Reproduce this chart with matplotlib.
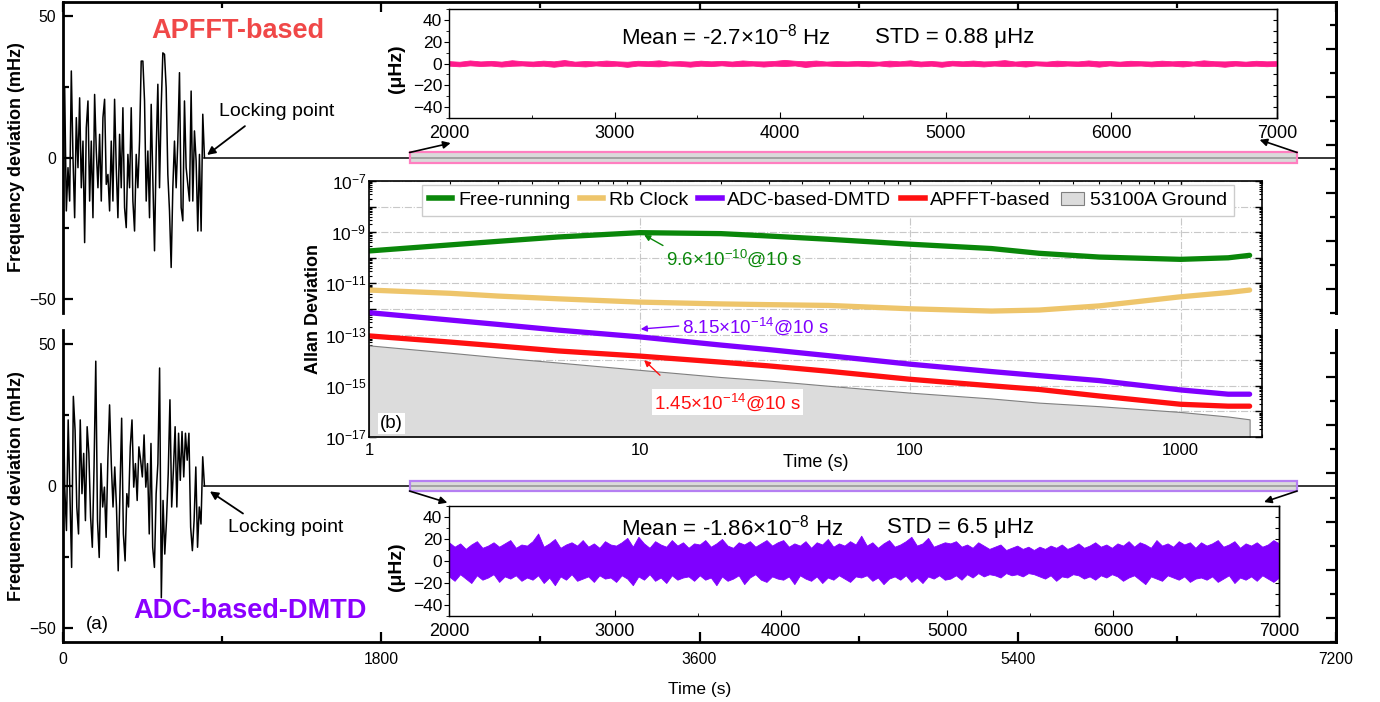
import numpy as np
import matplotlib
matplotlib.use('Agg')
import matplotlib.pyplot as plt
from matplotlib.patches import Rectangle, Patch
from matplotlib.lines import Line2D
from matplotlib.ticker import (FixedLocator, FuncFormatter, LogLocator,
                               MultipleLocator, NullFormatter)

plt.rcParams['font.family'] = ['Liberation Sans', 'DejaVu Sans']
plt.rcParams['mathtext.fontset'] = 'custom'
plt.rcParams['mathtext.rm'] = 'Liberation Sans'
plt.rcParams['mathtext.it'] = 'Liberation Sans:italic'
plt.rcParams['mathtext.bf'] = 'Liberation Sans:bold'

# ---------------- data ----------------
lock_time = 800.0          # s, locking point
total_time = 7200.0        # s
locked_level = 0.0         # mHz after locking (at mHz scale)

# free-running frequency deviation before locking (mHz)
apfft_pre = [0, 24.7, -18.9, -3.6, -15.4, 30.6, 0, -21.3, 14.1, -3.6,
             21.1, -10.7, 5.8, -30.1, 10.5, 20, -15.4, 5.8, -21.3, 22.3,
             2.3, -10.7, 8.2, -15.4, 14.1, 20.6, -9.5, -6, -18.9, 5.8,
             -15.4, 20.6, -3.6, -21.3, 8.2, -10.7, 17.6, -17.7, -24.8, 1.1,
             -10.7, 17.6, -15.4, -26, 1.1, -10.7, 5.8, 34.1, 34.1, 20,
             -15.4, 2.3, -21.3, 18.8, -8.3, -33, 2.3, 25.9, -10.7, 17.6,
             37, 36.5, 24.7, -6, -18.9, -38.9, -10.7, 5.8, -10.7, 5.8,
             30, -17.7, -22.4, 20, -3.6, -9.5, -15.4, 23.5, -15.4, 9.4,
             -1.2, -26, 1.1, -26, 15.3, 0]

adc_pre = [39.8, -0.4, -15.7, 23.3, -2.7, -28.7, 31.6, 19.7, -7.4, -16.9,
           23.3, -2.7, 11.5, -12.2, 20.9, 11.5, -11, -21.6, 6.7, 44,
           -12.2, -25.2, 7.9, -7.4, -0.4, -18.1, 9.1, 28.6, 7.9, -7.4,
           6.7, -7.4, -29.9, -2.7, 23.9, -16.9, -26.4, -2.7, -7.4, 13.8,
           23.3, -0.4, 7.9, -5.1, 13.8, 9.1, 3.2, 18, -0.4, 7.9,
           -16.9, 15, -21.6, -28.7, -2.7, 7.9, 41.6, -39.4, -5.1, -24,
           -12.2, 4.4, 30.4, -7.4, 5.6, 20.9, -7.4, 18.6, 2, 19.2,
           3.2, 18.6, 9.1, 18.6, -14.5, -22.8, -12.2, 6.7, -21.6, -7.4,
           -13.4, 10.3, 0]

# zoomed locked data (uHz): envelope of the dense noise
zoom_window = [2000, 7000]
apfft_upper = [2.2, 1.6, 2.8, 1.9, 2.4, 1.7, 3.0, 2.1, 1.8, 2.6,
               2.0, 3.2, 1.7, 2.3, 1.9, 2.7, 2.0, 1.6, 2.5, 2.1,
               2.9, 1.8, 2.2, 1.7, 2.6, 2.0, 2.4, 1.8, 2.8, 2.1,
               1.9, 2.3, 3.3, 2.5, 2.0, 2.7, 1.8, 2.2, 1.9, 2.4,
               2.1, 1.7, 2.6, 2.0, 2.9, 1.8, 2.3, 1.6, 2.5, 2.0,
               2.7, 1.9, 2.2, 3.1, 1.8, 2.4, 2.0, 1.7, 2.6, 2.1,
               1.9, 2.8, 2.0, 2.3, 1.7, 2.5, 2.1, 1.8, 2.6, 2.0,
               2.4, 1.8, 2.9, 2.1, 1.9, 2.3, 1.7, 2.5, 2.0, 2.2]
apfft_lower = [-2.0, -2.6, -1.7, -2.3, -1.9, -2.8, -2.1, -1.8, -2.5, -2.0,
               -3.0, -1.9, -2.2, -2.7, -1.8, -2.4, -2.0, -3.1, -1.9, -2.3,
               -2.6, -1.8, -2.1, -2.9, -2.0, -2.4, -1.7, -2.5, -2.2, -1.9,
               -2.8, -2.0, -2.3, -1.8, -3.2, -2.1, -1.9, -2.4, -2.2, -2.0,
               -2.5, -1.8, -2.7, -2.1, -1.9, -2.6, -2.0, -3.0, -1.8, -2.3,
               -2.1, -2.7, -1.9, -2.4, -2.0, -2.8, -1.7, -2.2, -2.5, -1.9,
               -2.3, -2.0, -2.9, -1.8, -2.4, -2.1, -1.9, -2.6, -2.2, -2.0,
               -2.7, -1.8, -2.3, -2.1, -3.0, -1.9, -2.4, -2.0, -2.5, -2.1]

adc_upper = [17, 13, 16, 11, 15, 18, 12, 14, 17, 13, 16, 19, 12, 15, 14,
             18, 25, 13, 16, 20, 12, 15, 17, 14, 19, 13, 16, 12, 18, 15,
             14, 17, 21, 13, 22, 16, 12, 18, 15, 13, 19, 14, 17, 12, 16,
             15, 19, 13, 16, 20, 14, 12, 17, 15, 18, 13, 16, 19, 14, 17,
             19, 13, 16, 14, 18, 12, 17, 15, 20, 13, 16, 14, 18, 15, 23,
             14, 17, 12, 16, 19, 13, 15, 18, 22, 14, 16, 21, 13, 15, 17,
             16, 18, 13, 15, 12, 17, 14, 11, 13, 15, 10, 12, 14, 11, 13,
             10, 13, 11, 14, 12, 15, 11, 13, 16, 12, 14, 17, 13, 15, 12,
             16, 14, 18, 13, 17, 15, 12, 19, 14, 16, 13, 18, 15, 17, 12,
             17, 14, 16, 19, 13, 15, 18, 12, 16, 14, 17, 13, 15, 19, 16]
adc_lower = [-14, -18, -12, -16, -20, -13, -17, -15, -12, -19, -14, -16, -13, -18, -15,
             -17, -13, -20, -15, -22, -14, -17, -12, -18, -16, -14, -19, -13, -16, -15,
             -19, -13, -16, -22, -14, -17, -12, -18, -15, -20, -13, -17, -15, -14, -18,
             -13, -17, -15, -22, -14, -18, -16, -13, -21, -15, -12, -17, -19, -14, -16,
             -17, -14, -21, -13, -16, -18, -14, -20, -15, -17, -13, -16, -19, -14, -15,
             -13, -18, -15, -21, -16, -14, -17, -13, -19, -15, -20, -14, -16, -13, -17,
             -16, -13, -17, -12, -15, -11, -14, -12, -13, -15, -11, -13, -12, -14, -11,
             -12, -14, -16, -13, -18, -14, -15, -12, -13, -16, -14, -17, -13, -15, -12,
             -14, -18, -15, -13, -17, -21, -14, -16, -18, -13, -15, -17, -14, -19, -16,
             -15, -17, -14, -19, -16, -13, -20, -15, -17, -14, -18, -13, -16, -19, -15]

# Allan deviation
tau = [1, 2, 3, 5, 10, 20, 30, 50, 100, 200, 300, 500, 1000, 1500, 1800]
free_running = [1.85e-10, 3.2e-10, 4.4e-10, 6.5e-10, 9.6e-10, 8.8e-10, 7.1e-10, 5.3e-10,
                3.4e-10, 2.3e-10, 1.5e-10, 1.07e-10, 8.7e-11, 1.0e-10, 1.25e-10]
rb_clock = [5.5e-12, 4.1e-12, 3.2e-12, 2.5e-12, 1.86e-12, 1.58e-12, 1.48e-12, 1.38e-12,
            1.02e-12, 8.3e-13, 9.1e-13, 1.32e-12, 3.0e-12, 4.4e-12, 5.5e-12]
adc_dmtd = [7.2e-13, 3.7e-13, 2.5e-13, 1.5e-13, 8.15e-14, 3.9e-14, 2.6e-14, 1.5e-14,
            7.0e-15, 3.6e-15, 2.5e-15, 1.6e-15, 6.9e-16, 4.7e-16, 4.7e-16]
apfft = [8.9e-14, 5.1e-14, 3.6e-14, 2.3e-14, 1.45e-14, 8.4e-15, 6.0e-15, 3.7e-15,
         1.8e-15, 1.0e-15, 7.2e-16, 4.0e-16, 1.9e-16, 1.6e-16, 1.6e-16]
ground = [3.8e-14, 1.95e-14, 1.3e-14, 8.1e-15, 4.2e-15, 2.2e-15, 1.6e-15, 1.0e-15,
          5.4e-16, 3.2e-16, 2.2e-16, 1.6e-16, 9.5e-17, 6.3e-17, 4.9e-17]

# ---------------- colours ----------------
C_GREEN = '#0a870a'
C_YELLOW = '#eec56b'
C_PURPLE = '#7f00ff'
C_RED = '#ff1010'
C_PINK = '#ff1a8c'
C_GROUND = '#dcdcdc'

# ---------------- layout ----------------
W, H = 1380, 702
fig = plt.figure(figsize=(W / 100, H / 100), dpi=100)


def px_rect(x0, y0, x1, y1):
    return [x0 / W, 1 - y1 / H, (x1 - x0) / W, (y1 - y0) / H]


ax_top = fig.add_axes(px_rect(63, 2, 1336, 313))
ax_bot = fig.add_axes(px_rect(63, 330, 1336, 642))


def style_main(ax, top):
    tw = ax.twinx()
    ax.set_xlim(0, total_time)
    ax.set_ylim(-55, 55)
    for s in ax.spines.values():
        s.set_linewidth(2)
    ax.spines['bottom' if top else 'top'].set_visible(False)
    ax.xaxis.set_major_locator(MultipleLocator(1800))
    ax.xaxis.set_minor_locator(MultipleLocator(900))
    ax.yaxis.set_major_locator(MultipleLocator(50))
    ax.yaxis.set_minor_locator(MultipleLocator(25))
    ax.tick_params(which='both', direction='in', width=1.6)
    ax.tick_params(which='major', length=7)
    ax.tick_params(which='minor', length=4)
    ax.tick_params(axis='y', left=True, right=False, labelsize=11.3, pad=5)
    if top:
        ax.tick_params(axis='x', which='both', top=True, bottom=False,
                       labelbottom=False, labeltop=False)
    else:
        ax.tick_params(axis='x', which='both', top=False, bottom=True,
                       labelsize=11.3, pad=7)
    # right-hand ticks
    tw.set_ylim(0, 311)
    for s in ['left', 'top', 'bottom']:
        tw.spines[s].set_visible(False)
    tw.spines['right'].set_linewidth(2)
    tw.yaxis.set_major_locator(FixedLocator(np.arange(24, 311, 48)))
    tw.yaxis.set_minor_locator(FixedLocator(np.arange(0, 311, 48)))
    tw.tick_params(axis='y', which='both', direction='in', labelright=False, width=1.6)
    tw.tick_params(axis='y', which='major', length=7)
    tw.tick_params(axis='y', which='minor', length=4)
    ax.set_ylabel('Frequency deviation (mHz)', fontsize=13, fontweight='bold')
    ax.yaxis.set_label_coords(-0.0299, 0.5)


style_main(ax_top, True)
style_main(ax_bot, False)

ax_bot.set_xlabel('Time (s)', fontsize=12.5)
ax_bot.xaxis.set_label_coords(0.5, -0.127)

t_apfft = np.linspace(0, lock_time, len(apfft_pre))
t_adc = np.linspace(0, lock_time, len(adc_pre))
ax_top.plot(t_apfft, apfft_pre, color='k', lw=1.1)
ax_top.plot([lock_time, total_time], [locked_level, locked_level], color='k', lw=1.1)
ax_bot.plot(t_adc, adc_pre, color='k', lw=1.1)
ax_bot.plot([lock_time, total_time], [locked_level, locked_level], color='k', lw=1.1)

# zoom rectangles
rect_t0, rect_t1, rect_h = 1960, 6980, 1.77
ax_top.add_patch(Rectangle((rect_t0, -rect_h), rect_t1 - rect_t0, 2 * rect_h,
                           facecolor=(0.8, 0.8, 0.8, 0.72), edgecolor='#ff7fc0',
                           lw=1.6, zorder=3))
ax_bot.add_patch(Rectangle((rect_t0, -rect_h), rect_t1 - rect_t0, 2 * rect_h,
                           facecolor=(0.8, 0.8, 0.8, 0.72), edgecolor='#b57ff2',
                           lw=1.6, zorder=3))

# titles / annotations on main panels
ax_top.text(990, 44.7, 'APFFT-based', color='#f04848', fontsize=19.5,
            fontweight='bold', ha='center', va='center')
ax_bot.text(1058, -44.1, 'ADC-based-DMTD', color='#8b00ff', fontsize=19.5,
            fontweight='bold', ha='center', va='center')
ax_bot.text(192, -48.7, '(a)', fontsize=13.5, ha='center', va='center')

ax_top.text(1210, 16.4, 'Locking point', fontsize=14, ha='center', va='center')
ax_top.annotate('', xy=(815, 0.9), xytext=(1029, 11.1),
                arrowprops=dict(arrowstyle='-|>', color='k', lw=1.3,
                                mutation_scale=12, shrinkA=0, shrinkB=0))
ax_bot.text(1261, -14.6, 'Locking point', fontsize=14, ha='center', va='center')
ax_bot.annotate('', xy=(831, -1.9), xytext=(1018, -9.7),
                arrowprops=dict(arrowstyle='-|>', color='k', lw=1.3,
                                mutation_scale=12, shrinkA=0, shrinkB=0))

# ---------------- zoom insets ----------------
ins_top = fig.add_axes(px_rect(449, 9, 1277, 118))
ins_bot = fig.add_axes(px_rect(449, 506, 1279, 616))


def style_inset(ax):
    ax.set_xlim(*zoom_window)
    ax.set_ylim(-50, 50)
    ax.set_facecolor('white')
    for s in ax.spines.values():
        s.set_linewidth(1.0)
    ax.xaxis.set_major_locator(MultipleLocator(1000))
    ax.xaxis.set_minor_locator(MultipleLocator(500))
    ax.yaxis.set_major_locator(MultipleLocator(20))
    ax.yaxis.set_minor_locator(MultipleLocator(10))
    ax.tick_params(axis='x', which='both', direction='in', labelsize=13, pad=5)
    ax.tick_params(axis='x', which='major', length=4)
    ax.tick_params(axis='x', which='minor', length=2.5)
    ax.tick_params(axis='y', which='both', direction='out', labelsize=12.5, pad=1.5)
    ax.tick_params(axis='y', which='major', length=3.5)
    ax.tick_params(axis='y', which='minor', length=2)
    sec = ax.secondary_yaxis('right')
    sec.yaxis.set_major_locator(MultipleLocator(10))
    sec.tick_params(axis='y', direction='in', length=3, labelright=False)
    sec.spines['right'].set_linewidth(1.0)
    ax.set_ylabel('(μHz)', fontsize=14, fontweight='bold')
    ax.yaxis.set_label_coords(-0.053, 0.45)


style_inset(ins_top)
style_inset(ins_bot)

t_pink = np.linspace(zoom_window[0], zoom_window[1], len(apfft_upper))
ins_top.fill_between(t_pink, apfft_lower, apfft_upper, color=C_PINK, lw=0.6)
t_purp = np.linspace(zoom_window[0], zoom_window[1], len(adc_upper))
ins_bot.fill_between(t_purp, adc_lower, adc_upper, color=C_PURPLE, lw=0.6)

ins_top.text(0.2077, 0.743, 'Mean = -2.7×10$^{-8}$ Hz', transform=ins_top.transAxes,
             fontsize=16, ha='left', va='center')
ins_top.text(0.5145, 0.743, 'STD = 0.88 μHz', transform=ins_top.transAxes,
             fontsize=16, ha='left', va='center')
ins_bot.text(0.2072, 0.8, 'Mean = -1.86×10$^{-8}$ Hz', transform=ins_bot.transAxes,
             fontsize=16, ha='left', va='center')
ins_bot.text(0.5277, 0.8, 'STD = 6.5 μHz', transform=ins_bot.transAxes,
             fontsize=16, ha='left', va='center')

arrow_kw = dict(arrowstyle='-|>', color='k', lw=1.2, mutation_scale=11,
                shrinkA=0, shrinkB=0)
ax_top.annotate('', xy=(0.002, -0.23), xycoords=ins_top.transAxes,
                xytext=(rect_t0, rect_h), textcoords='data', arrowprops=arrow_kw)
ax_top.annotate('', xy=(0.979, -0.2), xycoords=ins_top.transAxes,
                xytext=(rect_t1, rect_h), textcoords='data', arrowprops=arrow_kw)
ax_bot.annotate('', xy=(-0.002, 1.03), xycoords=ins_bot.transAxes,
                xytext=(rect_t0, -rect_h), textcoords='data', arrowprops=arrow_kw)
ax_bot.annotate('', xy=(0.982, 1.036), xycoords=ins_bot.transAxes,
                xytext=(rect_t1, -rect_h), textcoords='data', arrowprops=arrow_kw)

# ---------------- Allan deviation inset ----------------
ax_al = fig.add_axes(px_rect(369, 181, 1262, 437))
ax_al.set_facecolor('white')
ax_al.set_xscale('log')
ax_al.set_yscale('log')
ax_al.set_xlim(1, 2000)
ax_al.set_ylim(1e-17, 1e-7)
ax_al.set_axisbelow(True)
for s in ax_al.spines.values():
    s.set_linewidth(1.2)
ax_al.yaxis.set_major_locator(LogLocator(base=10, numticks=30))
ax_al.yaxis.set_minor_locator(LogLocator(base=10, subs=np.arange(2, 10), numticks=300))
ax_al.yaxis.set_minor_formatter(NullFormatter())
ax_al.xaxis.set_minor_locator(LogLocator(base=10, subs=np.arange(2, 10), numticks=30))
ax_al.xaxis.set_minor_formatter(NullFormatter())
ax_al.xaxis.set_major_formatter(FuncFormatter(lambda v, p: f'{v:g}'))


def yfmt(v, p):
    e = int(round(np.log10(v)))
    return f'$10^{{{e}}}$' if e % 2 else ''


ax_al.yaxis.set_major_formatter(FuncFormatter(yfmt))
ax_al.tick_params(which='both', direction='in', top=True, right=True)
ax_al.tick_params(which='major', length=5, width=1)
ax_al.tick_params(which='minor', length=2.5, width=0.8)
ax_al.tick_params(axis='y', labelsize=12.5, pad=2)
ax_al.tick_params(axis='x', labelsize=12, pad=4)
ax_al.grid(True, which='major', ls='-.', color='#c8c8c8', lw=0.8)

ax_al.fill_between(tau, ground, 1e-18, facecolor=C_GROUND, edgecolor='#808080', lw=0.8)
ax_al.plot(tau, free_running, color=C_GREEN, lw=3.8, solid_capstyle='round')
ax_al.plot(tau, rb_clock, color=C_YELLOW, lw=3.8, solid_capstyle='round')
ax_al.plot(tau, adc_dmtd, color=C_PURPLE, lw=3.8, solid_capstyle='round')
ax_al.plot(tau, apfft, color=C_RED, lw=3.8, solid_capstyle='round')

ax_al.set_ylabel('Allan Deviation', fontsize=13, fontweight='bold')
ax_al.yaxis.set_label_coords(-0.053, 0.5)
ax_al.set_xlabel('Time (s)', fontsize=13)
ax_al.xaxis.set_label_coords(0.5, -0.066)

handles = [Line2D([], [], color=C_GREEN, lw=4),
           Line2D([], [], color=C_YELLOW, lw=4),
           Line2D([], [], color=C_PURPLE, lw=4),
           Line2D([], [], color=C_RED, lw=4),
           Patch(facecolor=C_GROUND, edgecolor='#808080', lw=0.8)]
labels = ['Free-running', 'Rb Clock', 'ADC-based-DMTD', 'APFFT-based', '53100A Ground']
ax_al.legend(handles, labels, ncol=5, loc='upper center', bbox_to_anchor=(0.514, 0.985),
             fontsize=14, frameon=True, fancybox=False, edgecolor='#cccccc',
             framealpha=1, handlelength=1.2, handletextpad=0.3, columnspacing=0.5,
             borderpad=0.35, borderaxespad=0)

ak = dict(lw=1.0, mutation_scale=9, shrinkA=0, shrinkB=0)
ax_al.annotate('9.6×10$^{-10}$@10 s', xy=(10.4, 7.8e-10), xytext=(12.5, 1.0e-10),
               color=C_GREEN, fontsize=13.5, ha='left', va='center',
               arrowprops=dict(arrowstyle='-|>', color=C_GREEN, relpos=(0.0, 1.0), **ak))
ax_al.annotate('8.15×10$^{-14}$@10 s', xy=(10.1, 1.65e-13), xytext=(14.3, 2.2e-13),
               color=C_PURPLE, fontsize=13.5, ha='left', va='center',
               arrowprops=dict(arrowstyle='-|>', color=C_PURPLE, relpos=(0.0, 0.5), **ak))
ax_al.text(11.3, 2.3e-16, '1.45×10$^{-14}$@10 s', color=C_RED, fontsize=13.5,
           ha='left', va='center',
           bbox=dict(facecolor='white', edgecolor='none', pad=1.5))
ax_al.annotate('', xy=(10.4, 1.0e-14), xytext=(11.9, 2.6e-15),
               arrowprops=dict(arrowstyle='-|>', color=C_RED, **ak))
ax_al.text(1.1, 3.5e-17, '(b)', fontsize=13.5, ha='left', va='center',
           bbox=dict(facecolor='white', edgecolor='none', pad=1.5))

fig.savefig('out.png', dpi=100)
